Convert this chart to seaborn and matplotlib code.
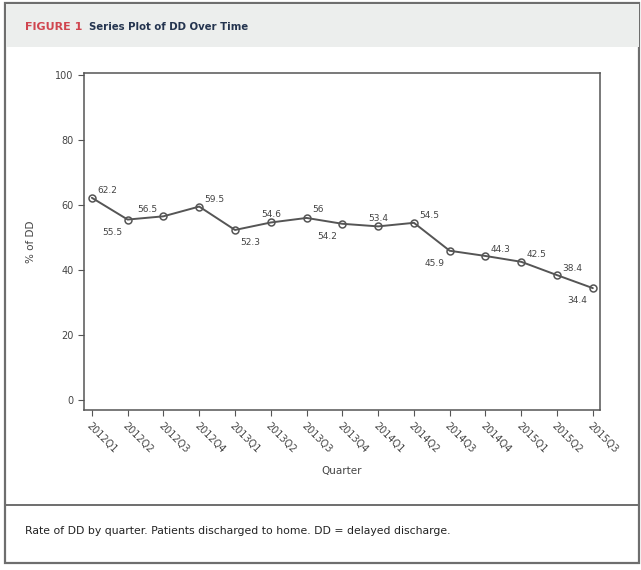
import matplotlib
matplotlib.use("Agg")
import matplotlib.pyplot as plt
import seaborn as sns
import pandas as pd
from matplotlib.patches import Rectangle
from matplotlib.lines import Line2D

quarters = ["2012Q1", "2012Q2", "2012Q3", "2012Q4", "2013Q1", "2013Q2", "2013Q3",
            "2013Q4", "2014Q1", "2014Q2", "2014Q3", "2014Q4", "2015Q1", "2015Q2", "2015Q3"]
dd_rate = [62.2, 55.5, 56.5, 59.5, 52.3, 54.6, 56, 54.2, 53.4, 54.5, 45.9, 44.3, 42.5, 38.4, 34.4]
# label placement per point: (dx, dy) in points
label_offsets = [(4, 5), (-4, -9), (-4, 5), (4, 5), (4, -9), (0, 6), (4, 6), (-4, -9),
                 (0, 6), (4, 5), (-4, -9), (4, 5), (4, 5), (4, 5), (-4, -9)]

sns.set_style("ticks")
plt.rcParams["font.family"] = ["DejaVu Sans"]

W, H = 641, 570
fig = plt.figure(figsize=(W / 100, H / 100), dpi=100)

# outer frame, header band and caption divider
fig.add_artist(Rectangle((5 / W, 1 - 563 / H), 634 / W, 560 / H, transform=fig.transFigure,
                         fill=False, ec="#6e6e6e", lw=1.6))
fig.add_artist(Rectangle((6 / W, 1 - 47 / H), 633 / W, 43 / H, transform=fig.transFigure,
                         fc="#eceeed", ec="none"))
fig.add_artist(Line2D([5 / W, 639 / W], [1 - 505 / H, 1 - 505 / H], transform=fig.transFigure,
                      color="#6e6e6e", lw=1.4))

fig.text(25 / W, 1 - 27 / H, "FIGURE 1", color="#d0454f", fontsize=8, fontweight="bold",
         va="center", ha="left")
fig.text(89 / W, 1 - 27 / H, "Series Plot of DD Over Time", color="#24344f", fontsize=7.3,
         fontweight="bold", va="center", ha="left")
fig.text(25 / W, 1 - 531 / H, "Rate of DD by quarter. Patients discharged to home. DD = delayed discharge.",
         color="#222222", fontsize=7.8, va="center", ha="left")

ax = fig.add_axes([84 / W, 1 - 410 / H, 516 / W, 337 / H])
df = pd.DataFrame({"Quarter": quarters, "DD": dd_rate})
sns.lineplot(data=df, x="Quarter", y="DD", ax=ax, color="#555555", lw=1.4, marker="o",
             markersize=5, markerfacecolor="none", markeredgecolor="#555555", markeredgewidth=1.1,
             sort=False)

for i, (v, (dx, dy)) in enumerate(zip(dd_rate, label_offsets)):
    ha = "left" if dx > 0 else ("right" if dx < 0 else "center")
    ax.annotate(f"{v:g}", (i, v), xytext=(dx, dy), textcoords="offset points",
                ha=ha, va="center", fontsize=6.5, color="#444444")

ax.set_xlim(-0.22, len(quarters) - 1 + 0.2)
ax.set_ylim(-3.1, 100.6)
ax.set_yticks([0, 20, 40, 60, 80, 100])
ax.set_xticks(range(len(quarters)))
ax.set_xticklabels(quarters, rotation=-45, ha="left", rotation_mode="anchor", fontsize=7, color="#444444")
ax.tick_params(axis="y", labelsize=7, labelcolor="#444444", color="#555555", length=4)
ax.tick_params(axis="x", color="#555555", length=4)
for s in ax.spines.values():
    s.set_color("#555555")
    s.set_linewidth(1.1)
ax.set_xlabel("Quarter", fontsize=7.5, color="#444444", labelpad=8)
ax.set_ylabel("% of DD", fontsize=7.5, color="#444444", labelpad=14)

fig.savefig("out.png", dpi=100)
